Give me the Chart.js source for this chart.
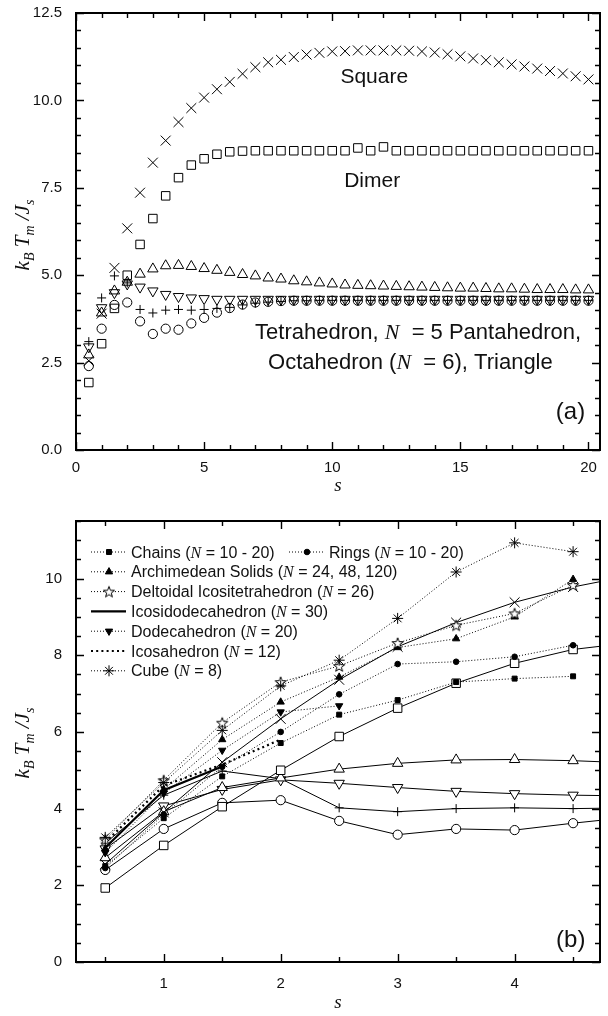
<!DOCTYPE html>
<html lang="en">
<head>
<meta charset="UTF-8">
<title>kBTm/Js versus s</title>
<script src="https://cdn.jsdelivr.net/npm/chart.js@4"></script>
<style>
  html, body { margin: 0; padding: 0; background: #fff; }
  body { width: 608px; height: 1016px; position: relative; overflow: hidden; }
  canvas { position: absolute; left: 0; }
  #chartA { top: 0; }
  #chartB { top: 500px; }
</style>
</head>
<body>
<canvas id="chartA" width="608" height="500"></canvas>
<canvas id="chartB" width="608" height="516"></canvas>
<script>
// ---- panel (a): s = 0.5 ... 20
const sA = [0.5, 1, 1.5, 2, 2.5, 3, 3.5, 4, 4.5, 5, 5.5, 6, 6.5, 7, 7.5, 8, 8.5, 9, 9.5, 10,
            10.5, 11, 11.5, 12, 12.5, 13, 13.5, 14, 14.5, 15, 15.5, 16, 16.5, 17, 17.5, 18, 18.5, 19, 19.5, 20];
const squareA = [2.55, 3.90, 5.21, 6.34, 7.36, 8.22, 8.85, 9.38, 9.78, 10.08,
                 10.32, 10.53, 10.76, 10.95, 11.09, 11.16, 11.24, 11.31, 11.36, 11.40,
                 11.41, 11.43, 11.43, 11.43, 11.43, 11.42, 11.40, 11.37, 11.32, 11.26,
                 11.20, 11.15, 11.09, 11.03, 10.97, 10.91, 10.84, 10.77, 10.69, 10.60];
const dimerA = [1.93, 3.04, 4.05, 5.00, 5.88, 6.62, 7.27, 7.79, 8.15, 8.33,
                8.46, 8.53, 8.55, 8.56, 8.56, 8.56, 8.56, 8.56, 8.56, 8.56,
                8.56, 8.64, 8.56, 8.67, 8.56, 8.56, 8.56, 8.56, 8.56, 8.56,
                8.56, 8.56, 8.56, 8.56, 8.56, 8.56, 8.56, 8.56, 8.56, 8.56];
const triangleA = [2.72, 3.92, 4.55, 4.80, 5.03, 5.18, 5.27, 5.28, 5.25, 5.19,
                   5.14, 5.08, 5.02, 4.98, 4.92, 4.89, 4.84, 4.81, 4.78, 4.75,
                   4.72, 4.71, 4.70, 4.69, 4.68, 4.67, 4.66, 4.65, 4.64, 4.63,
                   4.63, 4.62, 4.61, 4.61, 4.60, 4.59, 4.59, 4.59, 4.58, 4.58];
const tetraA = [2.95, 4.07, 4.50, 4.75, 4.66, 4.55, 4.45, 4.39, 4.35, 4.33,
                4.31, 4.31, 4.31, 4.31, 4.31, 4.31, 4.31, 4.31, 4.31, 4.31,
                4.31, 4.31, 4.31, 4.31, 4.31, 4.31, 4.31, 4.31, 4.31, 4.31,
                4.31, 4.31, 4.31, 4.31, 4.31, 4.31, 4.31, 4.31, 4.31, 4.31];
const pentaA = [3.10, 4.35, 4.98, 4.78, 4.02, 3.92, 4.00, 4.02, 4.00, 4.02,
                4.05, 4.08, 4.15, 4.20, 4.23, 4.25, 4.27, 4.27, 4.28, 4.28,
                4.28, 4.28, 4.28, 4.28, 4.28, 4.28, 4.28, 4.28, 4.28, 4.28,
                4.28, 4.28, 4.28, 4.28, 4.28, 4.28, 4.28, 4.28, 4.28, 4.28];
const octaA = [2.40, 3.47, 4.15, 4.22, 3.68, 3.32, 3.47, 3.44, 3.62, 3.78,
               3.93, 4.06, 4.16, 4.22, 4.24, 4.26, 4.27, 4.27, 4.27, 4.27,
               4.27, 4.27, 4.27, 4.27, 4.27, 4.27, 4.27, 4.27, 4.27, 4.27,
               4.27, 4.27, 4.27, 4.27, 4.27, 4.27, 4.27, 4.27, 4.27, 4.27];

// ---- panel (b): s = 0.5 ... 4.5
const sB = [0.5, 1, 1.5, 2, 2.5, 3, 3.5, 4, 4.5];
const chainsB = [2.50, 3.75, 4.84, 5.71, 6.45, 6.83, 7.30, 7.39, 7.45];
const ringsB = [2.45, 3.85, 5.09, 6.00, 6.98, 7.77, 7.83, 7.96, 8.26];
const archimedeanB = [2.95, 4.50, 5.80, 6.78, 7.43, 8.20, 8.43, 9.00, 9.98];
const deltoidalB = [3.19, 4.74, 6.24, 7.30, 7.72, 8.32, 8.78, 9.09, 9.83];
const icosidodecaB = [2.98, 4.48, 5.10];
const dodecaB = [2.85, 4.40, 5.52, 6.52, 6.68];
const icosaB = [3.12, 4.60, 5.15, 5.80];
const cubeB = [3.25, 4.68, 6.04, 7.20, 7.87, 8.96, 10.17, 10.93, 10.70];

// axis ticks
const xTicksA = [0, 5, 10, 15, 20];
const yTicksA = [0, 2.5, 5, 7.5, 10, 12.5];
const xTicksB = [1, 2, 3, 4];
const yTicksB = [0, 2, 4, 6, 8, 10];

const SANS = '"Liberation Sans", Arial, sans-serif';
const SERIF = '"Liberation Serif", "Times New Roman", serif';

function pts(xs, ys) {
  return ys.map((y, i) => ({ x: xs[i], y: y }));
}

// open five-point star marker
const starImg = (function () {
  const c = document.createElement('canvas');
  c.width = 14; c.height = 14;
  const g = c.getContext('2d');
  g.beginPath();
  for (let i = 0; i < 10; i++) {
    const r = i % 2 ? 2.4 : 5.8;
    const a = -Math.PI / 2 + i * Math.PI / 5;
    g.lineTo(7 + r * Math.cos(a), 7.6 + r * Math.sin(a));
  }
  g.closePath();
  g.fillStyle = '#fff';
  g.fill();
  g.lineWidth = 1;
  g.strokeStyle = '#000';
  g.stroke();
  return c;
})();

// draw a run of text pieces [text, font, dy] starting/centred at x
function drawParts(ctx, parts, x, y, align) {
  let w = 0;
  parts.forEach(p => { ctx.font = p[1]; w += ctx.measureText(p[0]).width; });
  let cx = align === 'center' ? x - w / 2 : x;
  ctx.textAlign = 'left';
  ctx.textBaseline = 'alphabetic';
  parts.forEach(p => {
    ctx.font = p[1];
    ctx.fillText(p[0], cx, y + (p[2] || 0));
    cx += ctx.measureText(p[0]).width;
  });
}

function yTitle(ctx, bx, cy) {
  const big = 'italic 21px ' + SERIF, sub = 'italic 14px ' + SERIF;
  ctx.save();
  ctx.translate(bx, cy);
  ctx.rotate(-Math.PI / 2);
  ctx.fillStyle = '#111';
  drawParts(ctx, [['k', big], ['B', sub, 5], [' T', big], ['m', sub, 5], [' /J', big], ['s', sub, 5]], 0, 0, 'center');
  ctx.restore();
}

// frame, inward ticks on all sides, axis titles
function framePlugin(xStep, yStep, titleY, sBaseline) {
  return {
    id: 'frame',
    afterDraw(chart) {
      const { ctx, chartArea: a, scales: { x, y } } = chart;
      const xMaj = chart.options.scales.x.majorTicks, yMaj = chart.options.scales.y.majorTicks;
      const isMaj = (arr, v) => arr.some(m => Math.abs(m - v) < 1e-6);
      ctx.save();
      ctx.strokeStyle = '#000';
      ctx.lineWidth = 1.4;
      ctx.beginPath();
      for (let k = Math.ceil(x.min / xStep - 1e-9); k * xStep <= x.max + 1e-9; k++) {
        const v = k * xStep, px = Math.round(x.getPixelForValue(v)) + 0.5;
        const len = isMaj(xMaj, v) ? 8 : 5;
        ctx.moveTo(px, a.bottom); ctx.lineTo(px, a.bottom - len);
        ctx.moveTo(px, a.top); ctx.lineTo(px, a.top + len);
      }
      for (let k = Math.ceil(y.min / yStep - 1e-9); k * yStep <= y.max + 1e-9; k++) {
        const v = k * yStep, py = Math.round(y.getPixelForValue(v)) + 0.5;
        const len = isMaj(yMaj, v) ? 8 : 5;
        ctx.moveTo(a.left, py); ctx.lineTo(a.left + len, py);
        ctx.moveTo(a.right, py); ctx.lineTo(a.right - len, py);
      }
      ctx.stroke();
      ctx.lineWidth = 2;
      ctx.strokeRect(a.left, a.top, a.right - a.left, a.bottom - a.top);
      yTitle(ctx, 29, titleY);
      ctx.fillStyle = '#111';
      drawParts(ctx, [['s', 'italic 19px ' + SERIF]], (a.left + a.right) / 2, sBaseline, 'center');
      ctx.restore();
    }
  };
}

function scalesFor(xMin, xMax, xT, yMin, yMax, yT, yFmt, xH, xPad) {
  const tickFont = { family: SANS, size: 15 };
  return {
    x: {
      type: 'linear', min: xMin, max: xMax, majorTicks: xT,
      grid: { display: false, drawTicks: false },
      border: { display: false },
      ticks: { color: '#111', font: tickFont, padding: xPad, maxRotation: 0, autoSkip: false },
      afterBuildTicks: s => { s.ticks = xT.map(v => ({ value: v })); },
      afterFit: s => { s.height = xH; s.paddingLeft = 0; s.paddingRight = 0; }
    },
    y: {
      type: 'linear', min: yMin, max: yMax, majorTicks: yT,
      grid: { display: false, drawTicks: false },
      border: { display: false },
      ticks: { color: '#111', font: tickFont, padding: 14, callback: yFmt },
      afterBuildTicks: s => { s.ticks = yT.map(v => ({ value: v })); },
      afterFit: s => { s.width = 76; s.paddingTop = 0; s.paddingBottom = 0; }
    }
  };
}

const baseOpts = {
  responsive: false,
  animation: false,
  devicePixelRatio: 1,
  events: [],
  plugins: { legend: { display: false }, tooltip: { enabled: false } }
};

// ---------- panel (a) ----------
const markA = { showLine: false, pointBorderColor: '#000', pointBackgroundColor: 'rgba(0,0,0,0)', pointBorderWidth: 1, borderColor: '#000' };

const labelsA = {
  id: 'labelsA',
  afterDraw(chart) {
    const { ctx, scales: { x, y } } = chart;
    const f = '21px ' + SANS, g = '22px ' + SANS, n = 'italic 22px ' + SERIF;
    ctx.save();
    ctx.fillStyle = '#111';
    drawParts(ctx, [['Square', f]], x.getPixelForValue(11.64), y.getPixelForValue(10.5), 'center');
    drawParts(ctx, [['Dimer', f]], x.getPixelForValue(11.56), y.getPixelForValue(7.51), 'center');
    drawParts(ctx, [['Tetrahedron, ', g], ['N', n], ['  = 5 Pantahedron,', g]], x.getPixelForValue(13.35), y.getPixelForValue(3.18), 'center');
    drawParts(ctx, [['Octahedron (', g], ['N', n], ['  = 6), Triangle', g]], x.getPixelForValue(13.05), y.getPixelForValue(2.32), 'center');
    drawParts(ctx, [['(a)', '24px ' + SANS]], x.getPixelForValue(19.3), y.getPixelForValue(0.9), 'center');
    ctx.restore();
  }
};

new Chart(document.getElementById('chartA'), {
  type: 'scatter',
  data: {
    datasets: [
      Object.assign({ label: 'Square', data: pts(sA, squareA), pointStyle: 'crossRot', pointRadius: 7 }, markA),
      Object.assign({ label: 'Dimer', data: pts(sA, dimerA), pointStyle: 'rect', pointRadius: 6 }, markA),
      Object.assign({ label: 'Triangle', data: pts(sA, triangleA), pointStyle: 'triangle', pointRadius: 6 }, markA),
      Object.assign({ label: 'Tetrahedron', data: pts(sA, tetraA), pointStyle: 'triangle', pointRotation: 180, pointRadius: 6 }, markA),
      Object.assign({ label: 'Pentahedron', data: pts(sA, pentaA), pointStyle: 'cross', pointRadius: 4.5 }, markA),
      Object.assign({ label: 'Octahedron', data: pts(sA, octaA), pointStyle: 'circle', pointRadius: 4.6 }, markA)
    ]
  },
  options: Object.assign({}, baseOpts, {
    layout: { padding: { top: 13, right: 2, left: 0, bottom: 0 } },
    scales: scalesFor(0, 20.45, xTicksA, 0, 12.5, yTicksA, v => v.toFixed(1), 50, 9)
  }),
  plugins: [framePlugin(1, 0.5, 235, 491), labelsA]
});

// ---------- panel (b) ----------
const upTo5 = sA.filter(v => v <= 5);
function openB(label, arr, style, r, rot) {
  return {
    label: label, data: pts(upTo5, arr.slice(0, upTo5.length)), showLine: true,
    borderColor: '#000', borderWidth: 1,
    pointStyle: style, pointRadius: r, pointRotation: rot || 0,
    pointBorderColor: '#000', pointBackgroundColor: '#fff', pointBorderWidth: 1
  };
}
function dottedB(label, arr, style, r, rot) {
  return {
    label: label, data: pts(sB, arr), showLine: true,
    borderColor: '#000', borderWidth: 1, borderDash: [1, 2],
    pointStyle: style, pointRadius: r, pointRotation: rot || 0,
    pointBorderColor: '#000', pointBackgroundColor: '#000', pointBorderWidth: 1
  };
}

const dsChains = dottedB('Chains (N = 10 - 20)', chainsB, 'rect', 3.5);
const dsRings = dottedB('Rings (N = 10 - 20)', ringsB, 'circle', 2.8);
const dsArch = dottedB('Archimedean Solids (N = 24, 48, 120)', archimedeanB, 'triangle', 4.2);
const dsDelt = dottedB('Deltoidal Icositetrahedron (N = 26)', deltoidalB, starImg, 6);
const dsIcosido = { label: 'Icosidodecahedron (N = 30)', data: pts(sB, icosidodecaB), showLine: true, borderColor: '#000', borderWidth: 2.2, pointRadius: 0 };
const dsDodeca = dottedB('Dodecahedron (N = 20)', dodecaB, 'triangle', 4.2, 180);
const dsIcosa = { label: 'Icosahedron (N = 12)', data: pts(sB, icosaB), showLine: true, borderColor: '#000', borderWidth: 2.2, borderDash: [2, 3.2], pointRadius: 0 };
const dsCube = dottedB('Cube (N = 8)', cubeB, 'star', 5.5);

const legendRows = [
  [[dsChains, 'Chains (', ' = 10 - 20)'], [dsRings, 'Rings (', ' = 10 - 20)']],
  [[dsArch, 'Archimedean Solids (', ' = 24, 48, 120)']],
  [[dsDelt, 'Deltoidal Icositetrahedron (', ' = 26)']],
  [[dsIcosido, 'Icosidodecahedron (', ' = 30)']],
  [[dsDodeca, 'Dodecahedron (', ' = 20)']],
  [[dsIcosa, 'Icosahedron (', ' = 12)']],
  [[dsCube, 'Cube (', ' = 8)']]
];

const legendB = {
  id: 'legendB',
  afterDraw(chart) {
    const { ctx, chartArea: a, scales: { x, y } } = chart;
    const f = '16px ' + SANS, n = 'italic 16px ' + SERIF;
    const cols = [a.left + 15, a.left + 213];
    ctx.save();
    legendRows.forEach((row, r) => {
      const cy = a.top + 31 + r * 19.8;
      row.forEach((item, c) => {
        const ds = item[0], x0 = cols[c];
        ctx.strokeStyle = '#000';
        ctx.fillStyle = '#000';
        ctx.lineWidth = ds.borderWidth;
        ctx.setLineDash(ds.borderDash || []);
        ctx.beginPath();
        ctx.moveTo(x0, cy); ctx.lineTo(x0 + 35, cy);
        ctx.stroke();
        ctx.setLineDash([]);
        if (ds.pointRadius > 0) {
          ctx.lineWidth = 1;
          Chart.helpers.drawPoint(ctx, { pointStyle: ds.pointStyle, radius: ds.pointRadius, rotation: ds.pointRotation, borderWidth: 1 }, x0 + 18, cy);
        }
        ctx.fillStyle = '#111';
        drawParts(ctx, [[item[1], f], ['N', n], [item[2], f]], x0 + 40, cy + 5.5, 'left');
      });
    });
    ctx.fillStyle = '#111';
    drawParts(ctx, [['(b)', '24px ' + SANS]], x.getPixelForValue(4.48), y.getPixelForValue(0.4), 'center');
    ctx.restore();
  }
};

new Chart(document.getElementById('chartB'), {
  type: 'scatter',
  data: {
    datasets: [
      dsCube, dsDelt, dsArch, dsDodeca, dsRings, dsChains, dsIcosa, dsIcosido,
      openB('Square', squareA, 'crossRot', 7),
      openB('Dimer', dimerA, 'rect', 6),
      openB('Triangle', triangleA, 'triangle', 6),
      openB('Tetrahedron', tetraA, 'triangle', 6, 180),
      openB('Pentahedron', pentaA, 'cross', 4.5),
      openB('Octahedron', octaA, 'circle', 4.6)
    ]
  },
  options: Object.assign({}, baseOpts, {
    layout: { padding: { top: 21, right: 2, left: 0, bottom: 0 } },
    scales: scalesFor(0.25, 4.73, xTicksB, 0, 11.5, yTicksB, v => String(v), 54, 13)
  }),
  plugins: [framePlugin(0.5, 0.5, 243, 508), legendB]
});
</script>
</body>
</html>
